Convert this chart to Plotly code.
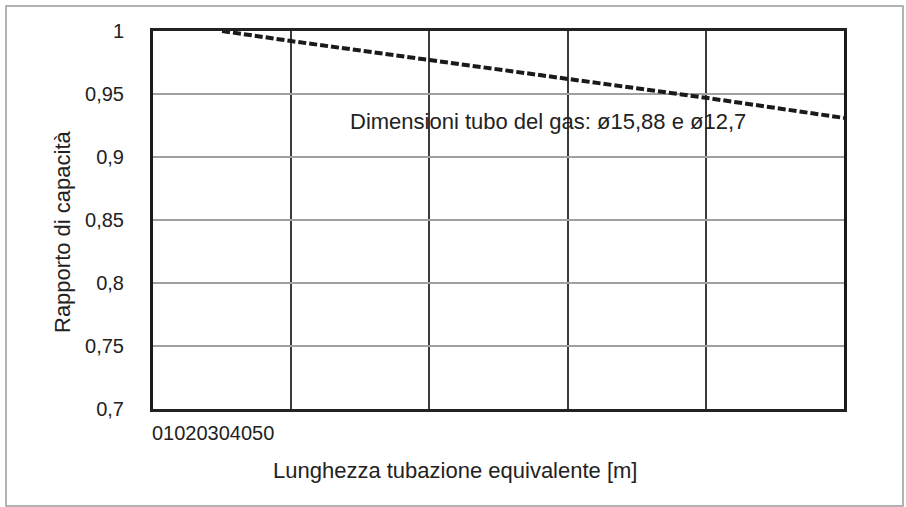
import plotly.graph_objects as go

# dati
lunghezza = [5, 10, 20, 30, 40, 50]
rapporto = [1.0, 0.992, 0.977, 0.962, 0.947, 0.931]

y_ticks = [0.7, 0.75, 0.8, 0.85, 0.9, 0.95, 1.0]
y_tick_labels = ["0,7", "0,75", "0,8", "0,85", "0,9", "0,95", "1"]
x_tick_labels = ["0", "10", "20", "30", "40", "50"]

W, H = 906, 507
L, R, T, B = 153, 62, 31, 98
pw, ph = W - L - R, H - T - B


def px(x):  # pixel -> paper
    return (x - L) / pw


def py(y):
    return (H - B - y) / ph


FONT = "Liberation Sans, Arial, sans-serif"

fig = go.Figure()
fig.add_trace(go.Scatter(x=lunghezza, y=rapporto, mode="lines",
                         line=dict(color="#1a1a1a", width=4, dash="8px,3px"),
                         showlegend=False, hoverinfo="x+y"))

fig.update_xaxes(range=[0, 50], dtick=10, showgrid=True, gridcolor="#3a3a3a", gridwidth=1.5,
                 showticklabels=False, ticks="", zeroline=False,
                 showline=True, linecolor="#222", linewidth=2.5, mirror=True)
fig.update_yaxes(range=[0.7, 1.0], tickvals=y_ticks, ticktext=y_tick_labels,
                 showgrid=True, gridcolor="#a0a0a0", gridwidth=1.5, ticks="",
                 ticklabelstandoff=22, zeroline=False,
                 tickfont=dict(size=20, color="#222", family=FONT),
                 showline=True, linecolor="#1a1a1a", linewidth=3, mirror=True)

# etichette asse x schiacciate a sinistra, come nell'originale
fig.add_annotation(text="".join(x_tick_labels), xref="paper", yref="paper",
                   x=px(150), y=py(433), xanchor="left", yanchor="middle",
                   showarrow=False, font=dict(size=20, color="#222", family=FONT))
fig.add_annotation(text="Lunghezza tubazione equivalente [m]", xref="paper", yref="paper",
                   x=px(455), y=py(470), xanchor="center", yanchor="middle",
                   showarrow=False, font=dict(size=22, color="#222", family=FONT))
fig.add_annotation(text="Rapporto di capacità", xref="paper", yref="paper",
                   x=px(62), y=py(231), xanchor="center", yanchor="middle", textangle=-90,
                   showarrow=False, font=dict(size=22, color="#222", family=FONT))
fig.add_annotation(text="Dimensioni tubo del gas: ø15,88 e ø12,7", x=14.1, y=0.928,
                   xanchor="left", yanchor="middle",
                   showarrow=False, font=dict(size=22, color="#222", family=FONT))

# cornice esterna
fig.add_shape(type="rect", xref="paper", yref="paper",
              x0=px(6), y0=py(506), x1=px(903), y1=py(6),
              line=dict(color="#9a9a9a", width=1.5), layer="below")

fig.update_layout(width=W, height=H, margin=dict(l=L, r=R, t=T, b=B),
                  paper_bgcolor="white", plot_bgcolor="white",
                  font=dict(family=FONT, color="#222"))

# niente margine del body, così la figura parte da (0, 0)
fig.write_html("out.html", config={"displayModeBar": False},
               post_script="document.body.style.margin='0';")
